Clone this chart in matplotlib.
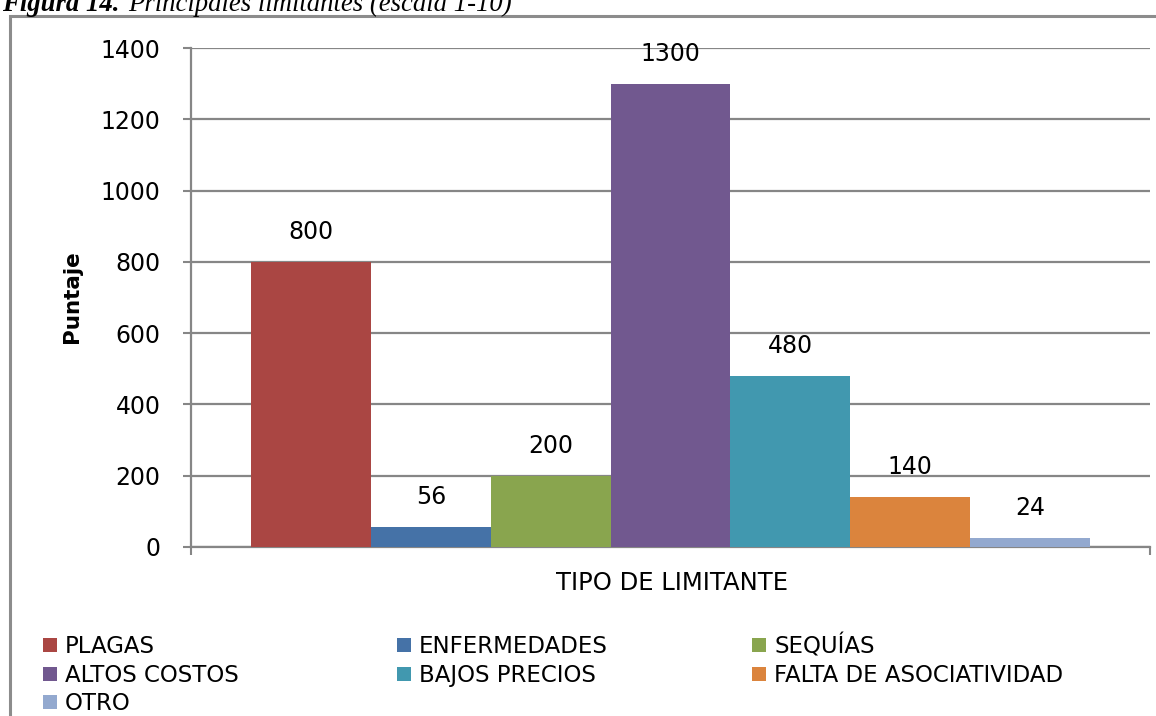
import matplotlib
matplotlib.use("Agg")
import matplotlib.pyplot as plt
from matplotlib.patches import Rectangle

categories = ["PLAGAS", "ENFERMEDADES", "SEQUÍAS", "ALTOS COSTOS",
              "BAJOS PRECIOS", "FALTA DE ASOCIATIVIDAD", "OTRO"]
values = [800, 56, 200, 1300, 480, 140, 24]
colors = ["#AA4643", "#4572A7", "#89A54E", "#71588F", "#4198AF", "#DB843D", "#93A9CF"]
yticks = [0, 200, 400, 600, 800, 1000, 1200, 1400]

W, H = 1156, 716
DPI = 100
FONT = "DejaVu Sans"
GRID = "#868686"

fig = plt.figure(figsize=(W / DPI, H / DPI), dpi=DPI)
fig.patch.set_facecolor("white")

def fx(px):
    return px / W

def fy(py):
    return 1 - py / H

# outer chart border
fig.patches.append(Rectangle((fx(10), fy(722)), fx(1170) - fx(10), fy(16) - fy(722),
                             transform=fig.transFigure, fill=False,
                             edgecolor="#8C8C8C", linewidth=2.2, zorder=0))

# title (cut at top in reference)
fig.text(fx(2), fy(11), "Figura 14.", fontsize=19.3, family="Liberation Serif",
         fontweight="bold", fontstyle="italic", va="baseline", ha="left")
fig.text(fx(128), fy(11), "Principales limitantes (escala 1-10)", fontsize=19.3,
         family="Liberation Serif", fontstyle="italic", va="baseline", ha="left")

left, right, top, bottom = 191, 1150, 48, 547
ax = fig.add_axes([fx(left), fy(bottom), fx(right) - fx(left), fy(top) - fy(bottom)])

n = len(values)
bw = 1 / (n + 1)
start = bw / 2
for i, (v, c) in enumerate(zip(values, colors)):
    x = start + bw * (i + 0.5)
    ax.bar(x, v, width=bw, color=c, edgecolor="none", zorder=3)
    ax.annotate(str(v), (x, v), xytext=(0, 13), textcoords="offset points",
                ha="center", va="bottom", fontsize=17, family=FONT, zorder=4)

ax.set_xlim(0, 1)
ax.set_ylim(0, 1400)
ax.set_yticks(yticks)
ax.set_yticklabels([str(t) for t in yticks], fontsize=17, family=FONT)
ax.set_xticks([0, 1])
ax.set_xticklabels(["", ""])
ax.tick_params(axis="y", direction="out", length=6, width=1.5, color=GRID, pad=16)
ax.tick_params(axis="x", direction="out", length=6, width=1.5, color=GRID)
ax.yaxis.grid(True, color=GRID, linewidth=1.6, zorder=0)
ax.set_axisbelow(True)
for s in ["top", "right"]:
    ax.spines[s].set_visible(False)
for s in ["left", "bottom"]:
    ax.spines[s].set_color(GRID)
    ax.spines[s].set_linewidth(1.6)

fig.text(fx(72), fy(297), "Puntaje", rotation=90, fontsize=15.5, fontweight="bold",
         family=FONT, ha="center", va="center")
fig.text(fx(672), fy(583), "TIPO DE LIMITANTE", fontsize=17.5, family=FONT,
         ha="center", va="center")

# legend (row-major, 3 columns)
col_x = [43, 397, 752]
row_base = [653, 682, 710]
sq = 14
for i, (name, c) in enumerate(zip(categories, colors)):
    r, k = divmod(i, 3)
    x0, yb = col_x[k], row_base[r]
    fig.patches.append(Rectangle((fx(x0), fy(yb - 1)), fx(sq), fy(0) - fy(sq),
                                 transform=fig.transFigure, facecolor=c, edgecolor="none"))
    fig.text(fx(x0 + 22), fy(yb), name, fontsize=16.5, family=FONT,
             ha="left", va="baseline")

fig.savefig("out.png", dpi=DPI)
